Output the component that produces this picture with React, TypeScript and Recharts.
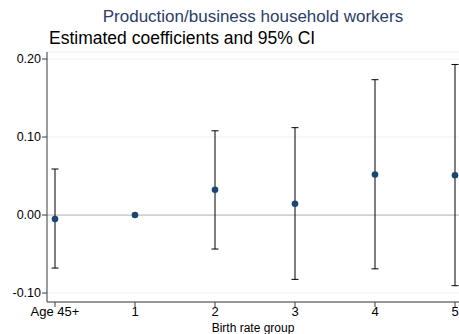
import React from "react";
import {
  ComposedChart, Scatter, ErrorBar, XAxis, YAxis, CartesianGrid, ReferenceLine,
} from "recharts";

const groups = ["Age 45+", "1", "2", "3", "4", "5"];
const coefs = [-0.005, 0.0, 0.0325, 0.0145, 0.052, 0.051];
const ciLow = [-0.068, null, -0.0436, -0.0825, -0.069, -0.0906];
const ciHigh = [0.059, null, 0.108, 0.112, 0.1735, 0.193];
const yTicks = [-0.1, 0, 0.1, 0.2];

const data = groups.map((g, i) => ({
  x: i,
  y: coefs[i],
  err:
    ciLow[i] == null || ciHigh[i] == null
      ? null
      : [coefs[i] - (ciLow[i] as number), (ciHigh[i] as number) - coefs[i]],
}));

const font = "'Liberation Sans', Arial, sans-serif";
const axisColor = "#3a3a3a";

export default function App() {
  return (
    <div style={{ position: "absolute", left: 0, top: 0, width: 459, height: 334, background: "#fff", fontFamily: font }}>
      <div style={{ position: "absolute", top: 7, left: 0, width: 506, textAlign: "center", fontSize: 17, color: "#2b3d68", whiteSpace: "nowrap" }}>
        Production/business household workers
      </div>
      <div style={{ position: "absolute", top: 28, left: 49, fontSize: 17.5, color: "#000", whiteSpace: "nowrap" }}>
        Estimated coefficients and 95% CI
      </div>
      <ComposedChart
        width={459}
        height={334}
        data={data}
        margin={{ top: 52, right: 0, bottom: 8, left: 0 }}
      >
        <CartesianGrid horizontal vertical={false} stroke="#eaf2f3" />
        <XAxis
          type="number"
          dataKey="x"
          height={24}
          domain={[-0.1, 5.05]}
          ticks={[0, 1, 2, 3, 4, 5]}
          tickFormatter={(v: number) => groups[v]}
          stroke={axisColor}
          tickSize={5}
          tick={{ fill: "#000", fontSize: 13, fontFamily: font }}
          tickMargin={0}
          interval={0}
          allowDataOverflow
        />
        <YAxis
          type="number"
          dataKey="y"
          width={47}
          domain={[-0.1115, 0.209]}
          ticks={yTicks}
          tickFormatter={(v: number) => v.toFixed(2)}
          stroke={axisColor}
          tickSize={5}
          tickMargin={1}
          allowDataOverflow
          tick={{ fill: "#000", fontSize: 12.5, fontFamily: font }}
        />
        <ReferenceLine y={0} stroke="#c4c4c4" strokeWidth={1.2} />
        <Scatter
          dataKey="y"
          fill="#1a476f"
          isAnimationActive={false}
          shape={(p: any) => <circle cx={p.cx} cy={p.cy} r={3.3} fill="#1a476f" />}
        >
          <ErrorBar dataKey="err" direction="y" width={3.5} stroke="#000" strokeWidth={1} isAnimationActive={false} />
        </Scatter>
      </ComposedChart>
      <div style={{ position: "absolute", top: 321, left: 0, width: 506, textAlign: "center", fontSize: 12, color: "#000", whiteSpace: "nowrap" }}>
        Birth rate group
      </div>
    </div>
  );
}
